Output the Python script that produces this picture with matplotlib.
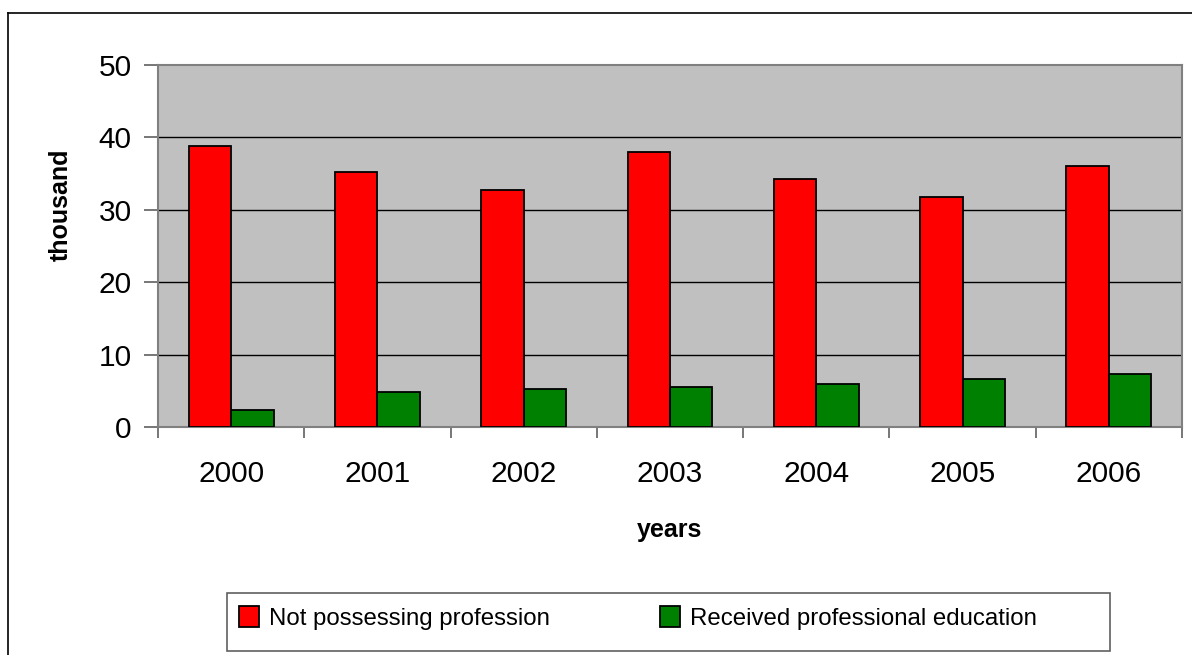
import numpy as np
import matplotlib.pyplot as plt
from matplotlib.lines import Line2D

plt.rcParams['font.family'] = ['Liberation Sans', 'DejaVu Sans']

years = ['2000', '2001', '2002', '2003', '2004', '2005', '2006']
no_profession = [38.8, 35.2, 32.8, 38.0, 34.2, 31.7, 36.0]
prof_education = [2.4, 4.8, 5.2, 5.5, 5.9, 6.6, 7.3]
series_names = ['Not possessing profession', 'Received professional education']

W, H = 1192, 655
fig = plt.figure(figsize=(W / 100, H / 100), dpi=100)
fig.patch.set_facecolor('white')

# plot area in pixel terms
left, right, top, bottom = 158, 1182, 65, 427
ax = fig.add_axes([left / W, 1 - bottom / H, (right - left) / W, (bottom - top) / H])
ax.set_facecolor('#c0c0c0')

x = np.arange(len(years))
bw = 0.29
b1 = ax.bar(x - bw / 2, no_profession, bw, color='#ff0000', edgecolor='black',
            linewidth=1.3, zorder=3)
b2 = ax.bar(x + bw / 2, prof_education, bw, color='#008000', edgecolor='black',
            linewidth=1.3, zorder=3)

ax.set_xlim(-0.5, len(years) - 0.5)
ax.set_ylim(0, 50)
ax.set_yticks(np.arange(0, 51, 10))
for yv in range(10, 50, 10):
    ax.axhline(yv, color='black', linewidth=1.0, zorder=1)

for s in ax.spines.values():
    s.set_color('#808080')
    s.set_linewidth(1.5)

# tick marks between categories, labels at category centres
ax.set_xticks(np.arange(-0.5, len(years)), labels=[])
ax.set_xticks(x, labels=years, minor=True)
ax.tick_params(axis='x', which='major', length=8, width=1.2, color='#606060',
               direction='out')
ax.tick_params(axis='x', which='minor', length=0, pad=24, labelsize=21.5)
ax.tick_params(axis='y', length=10, width=1.2, color='#606060', direction='out',
               pad=9, labelsize=21.5)

ax.set_xlabel('years', fontsize=18, fontweight='bold')
ax.xaxis.set_label_coords(0.5, (bottom - 530) / (bottom - top))
ax.xaxis.label.set_va('center')
ax.set_ylabel('thousand', fontsize=18, fontweight='bold')
ax.yaxis.set_label_coords((61 - left) / (right - left), (bottom - 205) / (bottom - top))
ax.yaxis.label.set_va('center')

# outer chart frame (runs off the right and bottom edges)
fig.add_artist(Line2D([8 / W, 1.0], [1 - 12.7 / H] * 2, color='black', linewidth=1.2))
fig.add_artist(Line2D([8 / W] * 2, [0.0, 1 - 12.7 / H], color='black', linewidth=1.2))

# legend box
lx0, ly0, lx1, ly1 = 227, 593, 1110, 651
fig.add_artist(plt.Rectangle((lx0 / W, 1 - ly1 / H), (lx1 - lx0) / W, (ly1 - ly0) / H,
                             transform=fig.transFigure, facecolor='white',
                             edgecolor='#606060', linewidth=1.2))
leg = fig.legend([b1, b2], series_names, loc='center left',
                 bbox_to_anchor=(239 / W, 1 - 618 / H), ncol=2, frameon=False,
                 fontsize=17.3, handlelength=0.85, handleheight=0.95,
                 handletextpad=0.38, columnspacing=4.6, borderpad=0,
                 borderaxespad=0)

fig.savefig('out.png', dpi=100)
